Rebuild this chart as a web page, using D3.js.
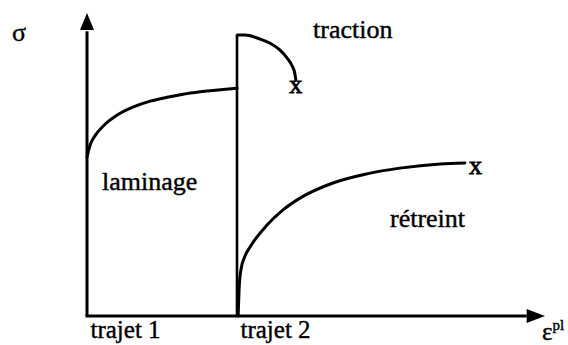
<!DOCTYPE html>
<html><head><meta charset="utf-8">
<script src="https://cdn.jsdelivr.net/npm/d3@7/dist/d3.min.js"></script>
<style>
html,body{margin:0;padding:0;background:#fff;}
text{font-family:"Liberation Serif","Times New Roman",serif;fill:#000;}
</style></head>
<body>
<svg id="c" width="568" height="345"></svg>
<script>
// Data (normalised units: ε from 0..100, σ from 0..100)
const laminage = [[0,52.5],[0.7,56.5],[1.8,59.6],[3.5,62.6],[6.6,66.3],[10.0,68.9],[13.8,70.9],[17.5,72.2],[21.0,73.2],[24.7,74.0],[32.8,75.2]];
const traction = [[32.8,92.7],[34.5,92.7],[37.8,91.4],[39.9,90.1],[42.1,87.8],[43.7,85.1],[44.8,82.5],[45.4,79.9],[45.6,77.9]];
const retreint = [[33.0,0],[33.2,8.6],[33.6,15.2],[34.5,19.8],[35.6,22.8],[39.3,30.0],[42.8,35.0],[46.5,38.9],[53.7,43.9],[61.1,46.9],[68.3,48.8],[77.1,50.2],[82.5,50.5]];
const trajetX = [0, 32.75];
const trajetLabels = ["trajet 1", "trajet 2"];
const trajet2Top = 92.7;
const ruptures = [[45.6,76.5],[84.8,49.7]];

const svg = d3.select("#c");
const x = d3.scaleLinear().domain([0,100]).range([87,545]);
const y = d3.scaleLinear().domain([0,100]).range([316,13]);
const line = d3.line().x(d=>x(d[0])).y(d=>y(d[1])).curve(d3.curveMonotoneX);

// axes
svg.append("line").attr("x1",x(0)).attr("y1",y(0)).attr("x2",x(0)).attr("y2",y(94))
  .attr("stroke","#000").attr("stroke-width",3);
svg.append("line").attr("x1",x(0)-1.5).attr("y1",y(0)).attr("x2",x(96)).attr("y2",y(0))
  .attr("stroke","#000").attr("stroke-width",3);
// arrowheads
svg.append("path").attr("d",`M${x(0)},${y(100)}L${x(0)-7},${y(94.4)}L${x(0)+7},${y(94.4)}Z`).attr("fill","#000");
svg.append("path").attr("d",`M${x(100)},${y(0)}L${x(96)},${y(0)-7}L${x(96)},${y(0)+7}Z`).attr("fill","#000");

// trajet 2 vertical
svg.append("line").attr("x1",x(trajetX[1])).attr("y1",y(0)).attr("x2",x(trajetX[1])).attr("y2",y(trajet2Top))
  .attr("stroke","#000").attr("stroke-width",2.6);

// curves
[laminage, traction, retreint].forEach(d=>{
  svg.append("path").attr("d",line(d)).attr("fill","none").attr("stroke","#000").attr("stroke-width",3).attr("stroke-linecap","round");
});

// rupture marks
svg.selectAll("text.x").data(ruptures).join("text").attr("class","x")
  .attr("x",d=>x(d[0])).attr("y",d=>y(d[1])).attr("text-anchor","middle").attr("dy","0.32em")
  .attr("font-size",26).attr("stroke","#000").attr("stroke-width",0.8).text("x");

// x-axis tick labels
const ax = d3.axisBottom(x).tickValues(trajetX).tickSize(0).tickPadding(0).tickFormat((d,i)=>trajetLabels[i]);
const g = svg.append("g").attr("transform",`translate(0,${y(0)})`).call(ax);
g.select(".domain").remove();
g.selectAll("text").attr("font-family","Liberation Serif, serif").attr("font-size",25)
  .attr("text-anchor","start").attr("dy",null).attr("y",22).attr("dx",3)
  .attr("stroke","#000").attr("stroke-width",0.4);

// labels
const lab = (t,px,py,fs)=>svg.append("text").attr("x",px).attr("y",py).attr("font-size",fs||26)
  .attr("stroke","#000").attr("stroke-width",0.4).text(t);
lab("σ",12,41);
lab("traction",313,38);
lab("laminage",102,190);
lab("rétreint",390,227);
const eps = svg.append("text").attr("x",542).attr("y",340).attr("font-size",25).attr("stroke","#000").attr("stroke-width",0.4);
eps.append("tspan").text("ε");
eps.append("tspan").attr("font-size",15).attr("dy",-10).text("pl");
</script>
</body></html>
